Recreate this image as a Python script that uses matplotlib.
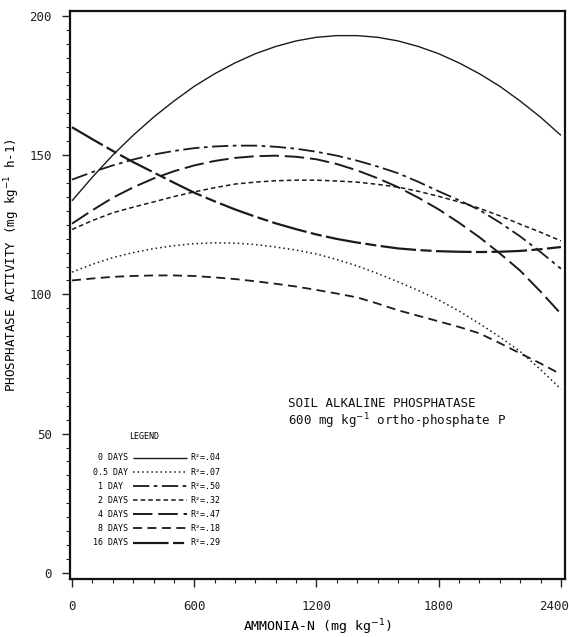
import matplotlib
matplotlib.use("Agg")
import matplotlib.pyplot as plt
import matplotlib.transforms as mtransforms
from matplotlib.ticker import MultipleLocator

plt.rcParams['font.family'] = ['DejaVu Sans Mono', 'DejaVu Sans']

ammonia = [0, 100, 200, 300, 400, 500, 600, 700, 800, 900, 1000, 1100, 1200,
           1300, 1400, 1500, 1600, 1700, 1800, 1900, 2000, 2100, 2200, 2300, 2400]

days_0 = [133.6, 142.1, 150.0, 157.1, 163.6, 169.4, 174.7, 179.2, 183.1, 186.4, 189.0, 191.0, 192.3,
          192.9, 192.9, 192.3, 191.0, 189.0, 186.4, 183.1, 179.2, 174.7, 169.4, 163.6, 157.1]
days_05 = [108.0, 110.8, 113.2, 115.0, 116.4, 117.5, 118.2, 118.5, 118.4, 117.9, 117.0, 115.9, 114.5,
           112.5, 110.2, 107.5, 104.5, 101.4, 98.0, 94.0, 89.5, 84.7, 79.5, 73.0, 66.0]
days_1 = [141.2, 143.9, 146.3, 148.4, 150.2, 151.5, 152.5, 153.1, 153.4, 153.4, 153.0, 152.3, 151.2,
          149.8, 148.0, 145.9, 143.5, 140.4, 137.0, 133.8, 130.3, 125.8, 120.8, 115.2, 109.2]
days_2 = [123.3, 126.5, 129.3, 131.3, 133.2, 135.1, 136.8, 138.3, 139.6, 140.3, 140.8, 141.0, 141.0,
          140.7, 140.3, 139.5, 138.5, 137.0, 135.2, 133.2, 130.9, 128.2, 125.2, 122.3, 119.2]
days_4 = [125.4, 130.2, 134.7, 138.4, 141.6, 144.2, 146.3, 147.9, 149.0, 149.6, 149.8, 149.4, 148.5,
          146.8, 144.5, 141.7, 138.5, 134.7, 130.5, 125.7, 120.5, 114.7, 108.5, 101.0, 93.0]
days_8 = [105.0, 105.7, 106.3, 106.6, 106.8, 106.8, 106.6, 106.1, 105.5, 104.7, 103.8, 102.8, 101.6,
          100.3, 98.9, 96.7, 94.3, 92.3, 90.3, 88.3, 86.0, 82.5, 78.8, 75.2, 71.3]
days_16 = [160.0, 155.7, 151.5, 147.5, 143.8, 140.1, 136.5, 133.4, 130.5, 127.9, 125.5, 123.4, 121.5,
           119.9, 118.6, 117.5, 116.5, 115.9, 115.5, 115.3, 115.2, 115.3, 115.6, 116.2, 117.0]

labels = [" 0 DAYS", "0.5 DAY", " 1 DAY ", " 2 DAYS", " 4 DAYS", " 8 DAYS", "16 DAYS"]
r2 = ["R²=.04", "R²=.07", "R²=.50", "R²=.32", "R²=.47", "R²=.18", "R²=.29"]
series = [days_0, days_05, days_1, days_2, days_4, days_8, days_16]

dash_styles = [
    (None, 1.0),
    ((0, (1, 2)), 1.1),
    ((0, (9, 2.5, 2, 2.5)), 1.3),
    ((0, (3, 2)), 1.1),
    ((0, (10, 3)), 1.4),
    ((0, (5, 3)), 1.3),
    ((0, (16, 2, 5, 2)), 1.6),
]

fig = plt.figure(figsize=(5.69, 6.37), dpi=100)
ax = fig.add_axes([0.123, 0.091, 0.870, 0.892])

handles = []
for vals, (ls, lw) in zip(series, dash_styles):
    if ls is None:
        ln, = ax.plot(ammonia, vals, color='#1a1a1a', lw=lw, solid_capstyle='butt')
    else:
        ln, = ax.plot(ammonia, vals, color='#1a1a1a', lw=lw, linestyle=ls)
    handles.append(ln)

ax.set_xlim(-10, 2420)
ax.set_ylim(-2.2, 201.8)
ax.set_xticks([0, 600, 1200, 1800, 2400])
ax.set_yticks([0, 50, 100, 150, 200])
ax.xaxis.set_minor_locator(MultipleLocator(100))
ax.yaxis.set_minor_locator(MultipleLocator(5))
ax.tick_params(which='major', direction='out', length=6, width=1.0, labelsize=9, colors='#222')
ax.tick_params(which='minor', direction='out', length=3, width=0.8, colors='#222')
ax.tick_params(axis='x', pad=9)
ax.tick_params(axis='y', pad=7)
for sp in ax.spines.values():
    sp.set_linewidth(1.6)
    sp.set_color('#111')

# last x tick label sits against the right edge
last = ax.get_xticklabels()[-1]
last.set_ha('right')
last.set_transform(last.get_transform() + mtransforms.ScaledTranslation(6 / 72, 0, fig.dpi_scale_trans))

ax.set_ylabel("PHOSPHATASE ACTIVITY (mg kg$^{-1}$ h-1)", fontsize=9)
ax.yaxis.set_label_coords(-0.097, 0.553)
ax.set_xlabel("AMMONIA-N (mg kg$^{-1}$)", fontsize=9.5)
ax.xaxis.set_label_coords(0.5, -0.067)

ax.text(1060, 63, "SOIL ALKALINE PHOSPHATASE\n600 mg kg$^{-1}$ ortho-phosphate P",
        fontsize=9, va='top', ha='left', linespacing=1.1, color='#111')

ax.text(0.15, 0.250, "LEGEND", transform=ax.transAxes, fontsize=6, ha='center', va='center')
leg1 = ax.legend(handles, labels, loc='upper right', bbox_to_anchor=(0.236, 0.221),
                 markerfirst=False, frameon=False, fontsize=6,
                 handlelength=6.5, handletextpad=0.6,
                 labelspacing=0.62, borderpad=0, borderaxespad=0)
ax.add_artist(leg1)
blank = [plt.Line2D([], [], linestyle='none') for _ in labels]
ax.legend(blank, r2, loc='upper left', bbox_to_anchor=(0.244, 0.221),
          frameon=False, fontsize=6,
          handlelength=0, handletextpad=0, labelspacing=0.62,
          borderpad=0, borderaxespad=0)

fig.savefig("out.png", dpi=100)
